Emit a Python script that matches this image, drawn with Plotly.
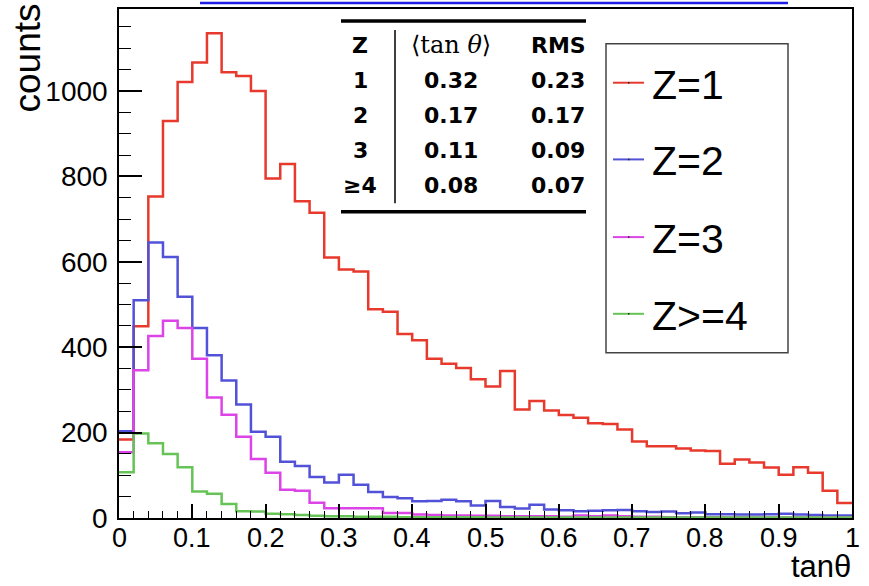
import numpy as np
import plotly.graph_objects as go

# ---------------- data (50 bins of width 0.02 on [0,1]) ----------------
bin_edges = [round(0.02 * i, 2) for i in range(51)]

z1_counts = [184, 449, 753, 930, 1021, 1067, 1135, 1044, 1035, 1000,
             795, 829, 742, 715, 610, 582, 577, 489, 483, 431,
             416, 373, 361, 351, 325, 308, 344, 254, 274, 252,
             241, 235, 222, 220, 207, 179, 168, 168, 163, 158,
             157, 127, 137, 130, 118, 101, 119, 106, 64, 35]

z2_counts = [203, 510, 645, 611, 518, 445, 381, 322, 266, 202,
             190, 132, 122, 96, 83, 101, 78, 61, 49, 46,
             39, 40, 43, 39, 29, 40, 26, 22, 31, 20,
             18, 16, 17, 18, 19, 16, 14, 15, 11, 13,
             9, 9, 8, 8, 9, 10, 8, 7, 6, 6]

z3_counts = [154, 346, 426, 462, 445, 373, 282, 242, 190, 138,
             106, 66, 64, 36, 23, 23, 23, 23, 12, 12,
             8, 7, 6, 6, 5, 5, 4, 4, 4, 4,
             3, 6, 4, 6, 4, 3, 3, 2, 2, 2,
             2, 1, 2, 1, 1, 1, 1, 1, 1, 1]

z4_counts = [107, 198, 175, 150, 119, 62, 57, 33, 16, 15,
             10, 9, 7, 5, 4, 4, 3, 3, 3, 2,
             2, 2, 2, 2, 2, 1, 1, 1, 1, 1,
             1, 1, 1, 1, 1, 1, 1, 1, 1, 1,
             1, 1, 1, 1, 1, 1, 1, 1, 1, 1]

series_names = ["Z=1", "Z=2", "Z=3", "Z>=4"]
series_colors = ["#e8392d", "#5252d8", "#dc44e8", "#66c457"]
series_counts = [z1_counts, z2_counts, z3_counts, z4_counts]

table_header = ["Z", "\u27e8tan <i>\u03b8</i>\u27e9", "RMS"]
table_z = ["1", "2", "3", "\u22654"]
table_mean = ["0.32", "0.17", "0.11", "0.08"]
table_rms = ["0.23", "0.17", "0.09", "0.07"]

x_ticks = [0, 0.1, 0.2, 0.3, 0.4, 0.5, 0.6, 0.7, 0.8, 0.9, 1]
x_ticklabels = ["0", "0.1", "0.2", "0.3", "0.4", "0.5", "0.6", "0.7", "0.8", "0.9", "1"]
y_ticks = [0, 200, 400, 600, 800, 1000]

# ---------------- layout geometry ----------------
W, H = 869, 586
ML, MR, MT, MB = 119, 17, 7, 68
PW, PH = W - ML - MR, H - MT - MB


def px2x(px):
    return (px - ML) / PW


def py2y(py):
    return (H - MB - py) / PH


fig = go.Figure()

for name, col, cnt in zip(series_names, series_colors, series_counts):
    xs = bin_edges[:-1] + [bin_edges[-1]]
    ys = list(cnt) + [cnt[-1]]
    fig.add_trace(go.Scatter(x=xs, y=ys, mode="lines", name=name,
                             line=dict(color=col, width=2.5, shape="hv"),
                             showlegend=False, hoverinfo="skip"))

shapes = []
annotations = []

# top partial hyperlink underline
shapes.append(dict(type="line", xref="paper", yref="paper",
                   x0=px2x(200), x1=px2x(788), y0=py2y(1), y1=py2y(1),
                   line=dict(color="#1e1ee6", width=2.5)))

# ---- table ----
shapes.append(dict(type="line", xref="paper", yref="paper", layer="above",
                   x0=px2x(341), x1=px2x(586), y0=py2y(19), y1=py2y(19),
                   line=dict(color="black", width=3.5)))
shapes.append(dict(type="line", xref="paper", yref="paper", layer="above",
                   x0=px2x(341), x1=px2x(586), y0=py2y(210.5), y1=py2y(210.5),
                   line=dict(color="black", width=3.5)))
shapes.append(dict(type="line", xref="paper", yref="paper", layer="above",
                   x0=px2x(395), x1=px2x(395), y0=py2y(28), y1=py2y(202),
                   line=dict(color="black", width=1.5)))

row_y = [43.5, 79, 114, 149, 184]
col_x = [360, 451, 558]
bold_font = dict(family="DejaVu Sans", size=22, color="black")
for j, txt in enumerate(table_header):
    if j == 1:
        f = dict(family="DejaVu Serif", size=24, color="black")
        t = txt
    else:
        f = bold_font
        t = "<b>" + txt + "</b>"
    annotations.append(dict(xref="paper", yref="paper", x=px2x(col_x[j]), y=py2y(row_y[0]),
                            text=t, showarrow=False, xanchor="center", yanchor="middle", font=f))
for i in range(4):
    for j, vals in enumerate([table_z, table_mean, table_rms]):
        annotations.append(dict(xref="paper", yref="paper", x=px2x(col_x[j]), y=py2y(row_y[i + 1]),
                                text="<b>" + vals[i] + "</b>", showarrow=False,
                                xanchor="center", yanchor="middle", font=bold_font))

# ---- legend box ----
shapes.append(dict(type="rect", xref="paper", yref="paper", layer="above",
                   x0=px2x(606), x1=px2x(788), y0=py2y(352), y1=py2y(42),
                   line=dict(color="#444444", width=1.5), fillcolor="white"))
leg_y = [81, 158, 236, 313]
for name, col, ly in zip(series_names, series_colors, leg_y):
    shapes.append(dict(type="line", xref="paper", yref="paper", layer="above",
                       x0=px2x(613), x1=px2x(644), y0=py2y(ly), y1=py2y(ly),
                       line=dict(color=col, width=2)))
    shapes.append(dict(type="rect", xref="paper", yref="paper", layer="above",
                       x0=px2x(628), x1=px2x(629.5), y0=py2y(ly + 0.75), y1=py2y(ly - 0.75),
                       line=dict(width=0), fillcolor="#222222"))
    annotations.append(dict(xref="paper", yref="paper", x=px2x(650), y=py2y(ly + 2),
                            text=name, showarrow=False, xanchor="left", yanchor="middle",
                            font=dict(family="Liberation Sans", size=41, color="black")))

# ---- x tick labels ----
for xv, lab in zip(x_ticks, x_ticklabels):
    annotations.append(dict(xref="x", yref="paper", x=xv, y=py2y(538),
                            text=lab, showarrow=False, xanchor="center", yanchor="middle",
                            font=dict(family="Liberation Sans", size=27, color="black")))

# ---- axis titles ----
annotations.append(dict(xref="paper", yref="paper", x=px2x(28), y=py2y(0),
                        text="counts", textangle=-90, showarrow=False,
                        xanchor="center", yanchor="top",
                        font=dict(family="Liberation Sans", size=37, color="black")))
annotations.append(dict(xref="paper", yref="paper", x=px2x(853), y=py2y(586),
                        text="tan\u03b8", showarrow=False,
                        xanchor="right", yanchor="bottom",
                        font=dict(family="Liberation Sans", size=31, color="black")))

fig.update_layout(
    width=W, height=H,
    margin=dict(l=ML, r=MR, t=MT, b=MB, pad=0),
    paper_bgcolor="white", plot_bgcolor="white",
    shapes=shapes, annotations=annotations,
    showlegend=False,
    font=dict(family="Liberation Sans", color="black"),
)

fig.update_xaxes(range=[0, 1], tickmode="array", tickvals=x_ticks, showticklabels=False,
                 ticks="inside", ticklen=14, tickwidth=1.5, tickcolor="black",
                 showline=True, linecolor="black", linewidth=1.5, mirror=True,
                 showgrid=False, zeroline=False,
                 minor=dict(dtick=0.02, tick0=0, ticks="inside", ticklen=7, tickwidth=1.2,
                            tickcolor="black", showgrid=False))
fig.update_yaxes(range=[0, 1192], tickmode="array", tickvals=y_ticks,
                 ticks="inside", ticklen=23, tickwidth=1.5, tickcolor="black",
                 showline=True, linecolor="black", linewidth=1.5, mirror=True,
                 showgrid=False, zeroline=False,
                 tickfont=dict(family="Liberation Sans", size=28, color="black"),
                 ticklabelstandoff=4,
                 minor=dict(dtick=50, tick0=0, ticks="inside", ticklen=12, tickwidth=1.2,
                            tickcolor="black", showgrid=False))

fig.write_html("out.html")
